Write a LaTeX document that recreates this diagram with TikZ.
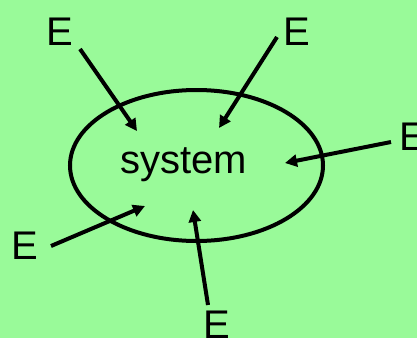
\documentclass[tikz,border=0pt]{standalone}
\usepackage{fontspec}
\setmainfont{Liberation Sans}
\usetikzlibrary{arrows.meta,shapes.geometric}
\definecolor{bg}{HTML}{99FA99}
\begin{document}
\begin{tikzpicture}[x=1pt,y=-1pt,
  lbl/.style={inner sep=0pt,font=\fontsize{40}{40}\selectfont,anchor=base},
  flow/.style={line width=4pt,-{Triangle[length=12pt,width=12pt]}},
  ring/.style={line width=4pt}]
\fill[bg] (0,0) rectangle (417,338);
\useasboundingbox (0,0) rectangle (417,338);
\node[ring,draw,ellipse,minimum width=253pt,minimum height=151pt,inner sep=0pt] (sys) at (196.5,165.5) {};
\node[lbl] (systxt) at (183.5,173) {system};
\node[lbl] (e1) at (60,45) {E};
\node[lbl] (e2) at (296.5,45) {E};
\node[lbl] (e3) at (413,150) {E};
\node[lbl] (e4) at (25,259) {E};
\node[lbl] (e5) at (216.5,338) {E};
\coordinate (a1) at (80,49);  \coordinate (b1) at (137,131);
\coordinate (a2) at (277,37); \coordinate (b2) at (219,128);
\coordinate (a3) at (391,142); \coordinate (b3) at (285,163);
\coordinate (a4) at (51,246); \coordinate (b4) at (145,206);
\coordinate (a5) at (208,305); \coordinate (b5) at (193,210);
\draw[flow] (a1) -- (b1);
\draw[flow] (a2) -- (b2);
\draw[flow] (a3) -- (b3);
\draw[flow] (a4) -- (b4);
\draw[flow] (a5) -- (b5);
\end{tikzpicture}
\end{document}
